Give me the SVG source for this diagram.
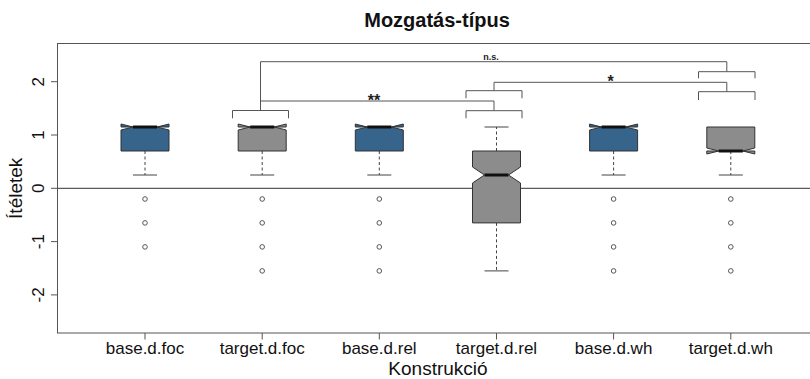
<svg xmlns="http://www.w3.org/2000/svg" width="810" height="379" viewBox="0 0 810 379">
  <style>
    .frame { fill: none; stroke: #555; stroke-width: 1; }
    .axis { stroke: #555; stroke-width: 1; fill: none; }
    .tick-label { font-family: "Liberation Sans", Arial, sans-serif; font-size: 17px; fill: #111; }
    .axis-title { font-family: "Liberation Sans", Arial, sans-serif; font-size: 19px; fill: #111; }
    .title { font-family: "Liberation Sans", Arial, sans-serif; font-size: 20px; font-weight: bold; fill: #111; }
    .box-blue { fill: #36648b; stroke: #333; stroke-width: 1; }
    .box-gray { fill: #8c8c8c; stroke: #333; stroke-width: 1; }
    .median { stroke: #111; stroke-width: 3; }
    .whisker { stroke: #444; stroke-width: 1; stroke-dasharray: 3 2.5; }
    .staple { stroke: #444; stroke-width: 1; }
    .outlier { fill: none; stroke: #555; stroke-width: 1; }
    .bracket { fill: none; stroke: #555; stroke-width: 1; }
    .sig { font-family: "Liberation Sans", Arial, sans-serif; font-weight: bold; fill: #222; text-anchor: middle; }
  </style>

  <rect width="810" height="379" fill="#fff"/>

  <!-- plot title -->
  <text class="title" x="437" y="27" text-anchor="middle">Mozgatás-típus</text>

  <!-- plot frame (right side runs past the canvas) -->
  <rect class="frame" x="57.5" y="43.5" width="760" height="289.5"/>

  <!-- reference line at 0 -->
  <line x1="57.5" y1="188.3" x2="810" y2="188.3" stroke="#333" stroke-width="1"/>

  <!-- y axis -->
  <g id="y-axis">
    <path class="axis" d="M51 81.7H57.5M51 135H57.5M51 188.3H57.5M51 241.6H57.5M51 294.9H57.5"/>
    <g class="tick-label" text-anchor="middle">
      <text transform="translate(43.5 81.7) rotate(-90)">2</text>
      <text transform="translate(43.5 135) rotate(-90)">1</text>
      <text transform="translate(43.5 188.3) rotate(-90)">0</text>
      <text transform="translate(43.5 241.6) rotate(-90)">-1</text>
      <text transform="translate(43.5 294.9) rotate(-90)">-2</text>
    </g>
    <text class="axis-title" text-anchor="middle" font-size="20" transform="translate(22 188.3) rotate(-90)">Ítéletek</text>
  </g>

  <!-- x axis -->
  <g id="x-axis">
    <path class="axis" d="M145 333V339.5M262.2 333V339.5M379.3 333V339.5M496.5 333V339.5M613.6 333V339.5M730.8 333V339.5"/>
    <g class="tick-label" text-anchor="middle">
      <text x="145" y="354">base.d.foc</text>
      <text x="262.2" y="354">target.d.foc</text>
      <text x="379.3" y="354">base.d.rel</text>
      <text x="496.5" y="354">target.d.rel</text>
      <text x="613.6" y="354">base.d.wh</text>
      <text x="730.8" y="354">target.d.wh</text>
    </g>
    <text class="axis-title" x="438" y="374.5" text-anchor="middle">Konstrukció</text>
  </g>

  <!-- boxes: Q1 0.7, median = Q3 1.15 -->
  <g id="base-d-foc" transform="translate(145 0)">
    <line class="whisker" x1="0" y1="151" x2="0" y2="175"/>
    <line class="staple" x1="-12" y1="175" x2="12" y2="175"/>
    <polygon class="box-blue" points="-24,151 24,151 24,130 12,127 24,124 24,127 -24,127 -24,124 -12,127 -24,130"/>
    <line class="median" x1="-12" y1="127" x2="12" y2="127"/>
    <circle class="outlier" cx="0" cy="199" r="2.3"/>
    <circle class="outlier" cx="0" cy="222.9" r="2.3"/>
    <circle class="outlier" cx="0" cy="246.9" r="2.3"/>
  </g>

  <g id="target-d-foc" transform="translate(262.2 0)">
    <line class="whisker" x1="0" y1="151" x2="0" y2="175"/>
    <line class="staple" x1="-12" y1="175" x2="12" y2="175"/>
    <polygon class="box-gray" points="-24,151 24,151 24,130 12,127 24,124 24,127 -24,127 -24,124 -12,127 -24,130"/>
    <line class="median" x1="-12" y1="127" x2="12" y2="127"/>
    <circle class="outlier" cx="0" cy="199" r="2.3"/>
    <circle class="outlier" cx="0" cy="222.9" r="2.3"/>
    <circle class="outlier" cx="0" cy="246.9" r="2.3"/>
    <circle class="outlier" cx="0" cy="270.9" r="2.3"/>
  </g>

  <g id="base-d-rel" transform="translate(379.3 0)">
    <line class="whisker" x1="0" y1="151" x2="0" y2="175"/>
    <line class="staple" x1="-12" y1="175" x2="12" y2="175"/>
    <polygon class="box-blue" points="-24,151 24,151 24,130 12,127 24,124 24,127 -24,127 -24,124 -12,127 -24,130"/>
    <line class="median" x1="-12" y1="127" x2="12" y2="127"/>
    <circle class="outlier" cx="0" cy="199" r="2.3"/>
    <circle class="outlier" cx="0" cy="222.9" r="2.3"/>
    <circle class="outlier" cx="0" cy="246.9" r="2.3"/>
    <circle class="outlier" cx="0" cy="270.9" r="2.3"/>
  </g>

  <!-- wide box: Q1 -0.65, median 0.25, Q3 0.7 -->
  <g id="target-d-rel" transform="translate(496.5 0)">
    <line class="whisker" x1="0" y1="151" x2="0" y2="127"/>
    <line class="staple" x1="-12" y1="127" x2="12" y2="127"/>
    <line class="whisker" x1="0" y1="222.9" x2="0" y2="270.9"/>
    <line class="staple" x1="-12" y1="270.9" x2="12" y2="270.9"/>
    <polygon class="box-gray" points="-24,222.9 24,222.9 24,183 12,175 24,167 24,151 -24,151 -24,167 -12,175 -24,183"/>
    <line class="median" x1="-12" y1="175" x2="12" y2="175"/>
  </g>

  <g id="base-d-wh" transform="translate(613.6 0)">
    <line class="whisker" x1="0" y1="151" x2="0" y2="175"/>
    <line class="staple" x1="-12" y1="175" x2="12" y2="175"/>
    <polygon class="box-blue" points="-24,151 24,151 24,130 12,127 24,124 24,127 -24,127 -24,124 -12,127 -24,130"/>
    <line class="median" x1="-12" y1="127" x2="12" y2="127"/>
    <circle class="outlier" cx="0" cy="199" r="2.3"/>
    <circle class="outlier" cx="0" cy="222.9" r="2.3"/>
    <circle class="outlier" cx="0" cy="246.9" r="2.3"/>
    <circle class="outlier" cx="0" cy="270.9" r="2.3"/>
  </g>

  <!-- Q1 = median 0.7, Q3 1.15 -->
  <g id="target-d-wh" transform="translate(730.8 0)">
    <line class="whisker" x1="0" y1="151" x2="0" y2="175"/>
    <line class="staple" x1="-12" y1="175" x2="12" y2="175"/>
    <polygon class="box-gray" points="-24,151 24,151 24,154 12,151 24,148 24,127 -24,127 -24,148 -12,151 -24,154"/>
    <line class="median" x1="-12" y1="151" x2="12" y2="151"/>
    <circle class="outlier" cx="0" cy="199" r="2.3"/>
    <circle class="outlier" cx="0" cy="222.9" r="2.3"/>
    <circle class="outlier" cx="0" cy="246.9" r="2.3"/>
    <circle class="outlier" cx="0" cy="270.9" r="2.3"/>
  </g>

  <!-- significance brackets -->
  <g id="connectors">
    <!-- target.d.foc vs target.d.wh (n.s.) -->
    <path class="bracket" d="M260.5 110.5V61.7H726.8V71.7"/>
    <path class="bracket" d="M698.5 78.3V71.7H755V78.3"/>
    <!-- target.d.foc vs target.d.rel (**) -->
    <path class="bracket" d="M232.5 118.3V110.5H288.5V118.3"/>
    <path class="bracket" d="M260.5 101H494V110.7"/>
    <path class="bracket" d="M466 118.3V110.7H522V118.3"/>
    <!-- target.d.rel vs target.d.wh (*) -->
    <path class="bracket" d="M466 98.3V90.7H522V98.3"/>
    <path class="bracket" d="M494 90.7V82.3H726.8V91.7"/>
    <path class="bracket" d="M698.5 100V91.7H755V100"/>
  </g>

  <g id="labels">
    <text class="sig" x="491" y="60" font-size="9">n.s.</text>
    <text class="sig" x="374" y="105.5" font-size="16">**</text>
    <text class="sig" x="610.7" y="86.5" font-size="16">*</text>
  </g>
</svg>
